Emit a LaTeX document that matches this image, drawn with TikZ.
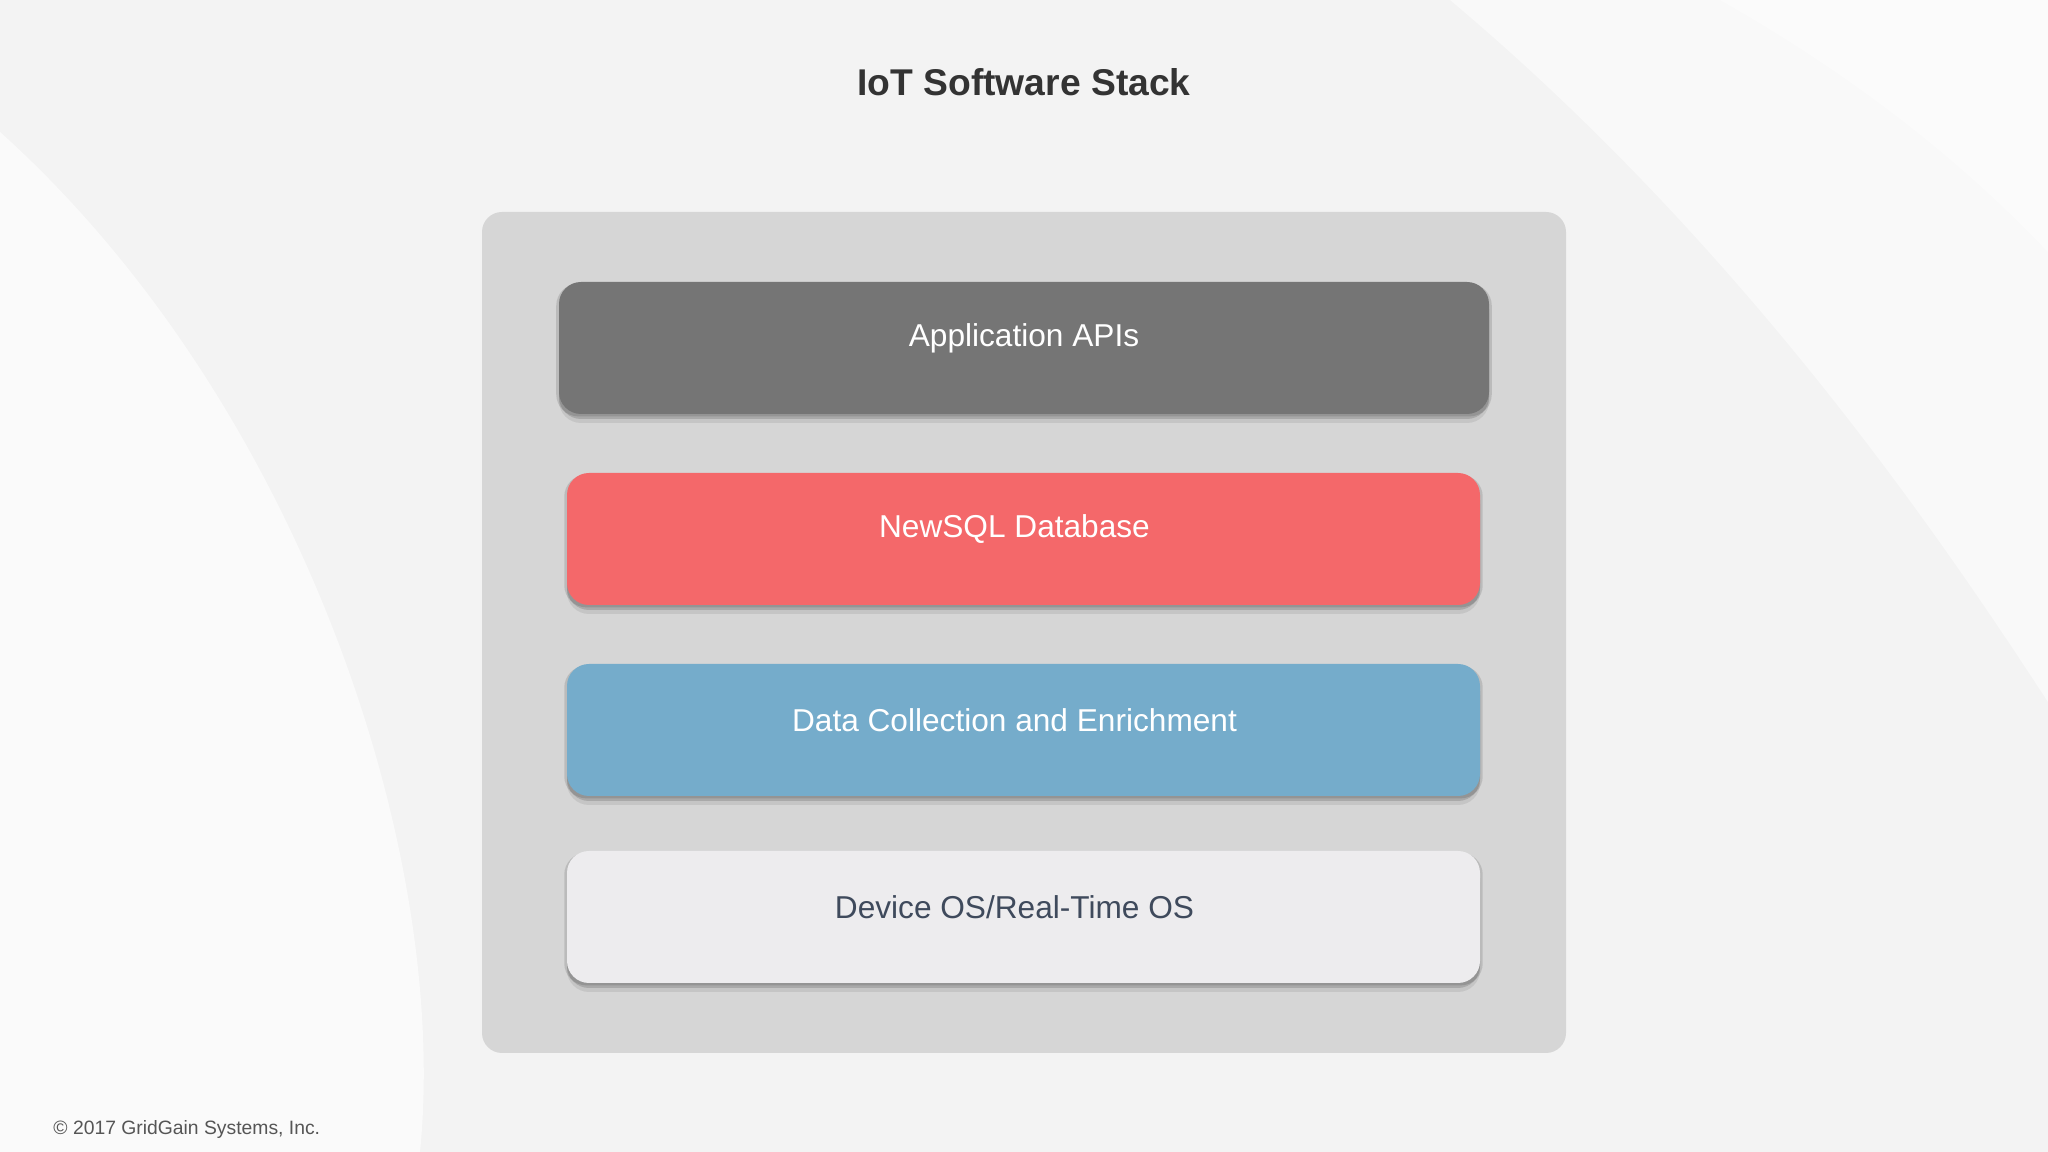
\documentclass[tikz,border=0pt]{standalone}
\usepackage{fontspec}
\setmainfont{Liberation Sans}
\usetikzlibrary{shadows}
\definecolor{pagebg}{HTML}{F3F3F3}
\definecolor{panelgray}{HTML}{D6D6D6}
\definecolor{apigray}{HTML}{757575}
\definecolor{dbred}{HTML}{F4686A}
\definecolor{collectblue}{HTML}{75ACCB}
\definecolor{osgray}{HTML}{EDECEE}
\definecolor{ostext}{HTML}{3F4A5C}
\definecolor{titletext}{HTML}{333333}
\definecolor{notetext}{HTML}{555555}
\begin{document}
\begin{tikzpicture}[
        panel/.style={rectangle, fill=panelgray, rounded corners=2mm, minimum width=10.84cm, minimum height=8.41cm},
        layer/.style={rectangle, rounded corners=2.2mm, minimum width=9.13cm, minimum height=1.32cm,
            drop shadow={shadow xshift=0mm, shadow yshift=-0.9mm, opacity=0.08, fill=black},
            drop shadow={shadow xshift=0mm, shadow yshift=-0.5mm, opacity=0.14, fill=black},
            drop shadow={shadow xshift=0mm, shadow yshift=-0.2mm, shadow scale=1.006, opacity=0.12, fill=black}},
        caption/.style={font=\fontsize{9}{11}\selectfont, text=white},
        title/.style={font=\fontsize{10.6}{13}\selectfont\bfseries, text=titletext},
        note/.style={font=\fontsize{5.5}{7}\selectfont, text=notetext, anchor=west}
    ]
        % Background
        \fill[pagebg] (0,0) rectangle (20.48,11.52);
        \fill[white, opacity=0.6] (0,10.2) .. controls (3,7.5) and (4.5,3) .. (4.2,0)
            -- (0,0) -- cycle;
        \fill[white, opacity=0.5] (14.5,11.52) .. controls (17.5,9) and (19.5,6) .. (20.48,4.5)
            -- (20.48,11.52) -- cycle;
        \fill[white, opacity=0.4] (17.2,11.52) .. controls (19,10.5) and (20,9.5) .. (20.48,9)
            -- (20.48,11.52) -- cycle;
        \useasboundingbox (0,0) rectangle (20.48,11.52);

        % Title
        \node[title] (head) at (10.24,10.70) {IoT Software Stack};

        % Stack
        \node[panel] (stack) at (10.24,5.195) {};
        \node[layer, fill=apigray, minimum width=9.30cm,
            label={[caption, yshift=1mm]center:Application APIs}]
            (api) at (10.24,8.04) {};
        \node[layer, fill=dbred,
            label={[caption, xshift=-0.9mm, yshift=1mm]center:NewSQL Database}]
            (db) at (10.235,6.13) {};
        \node[layer, fill=collectblue,
            label={[caption, xshift=-0.9mm, yshift=1mm]center:Data Collection and Enrichment}]
            (collect) at (10.235,4.22) {};
        \node[layer, fill=osgray,
            label={[caption, text=ostext, xshift=-0.9mm, yshift=1mm]center:Device OS/Real-Time OS}]
            (os) at (10.235,2.35) {};

        % Footer
        \node[note] (copy) at (0.41,0.22) {© 2017 GridGain Systems, Inc.};
    \end{tikzpicture}
\end{document}
